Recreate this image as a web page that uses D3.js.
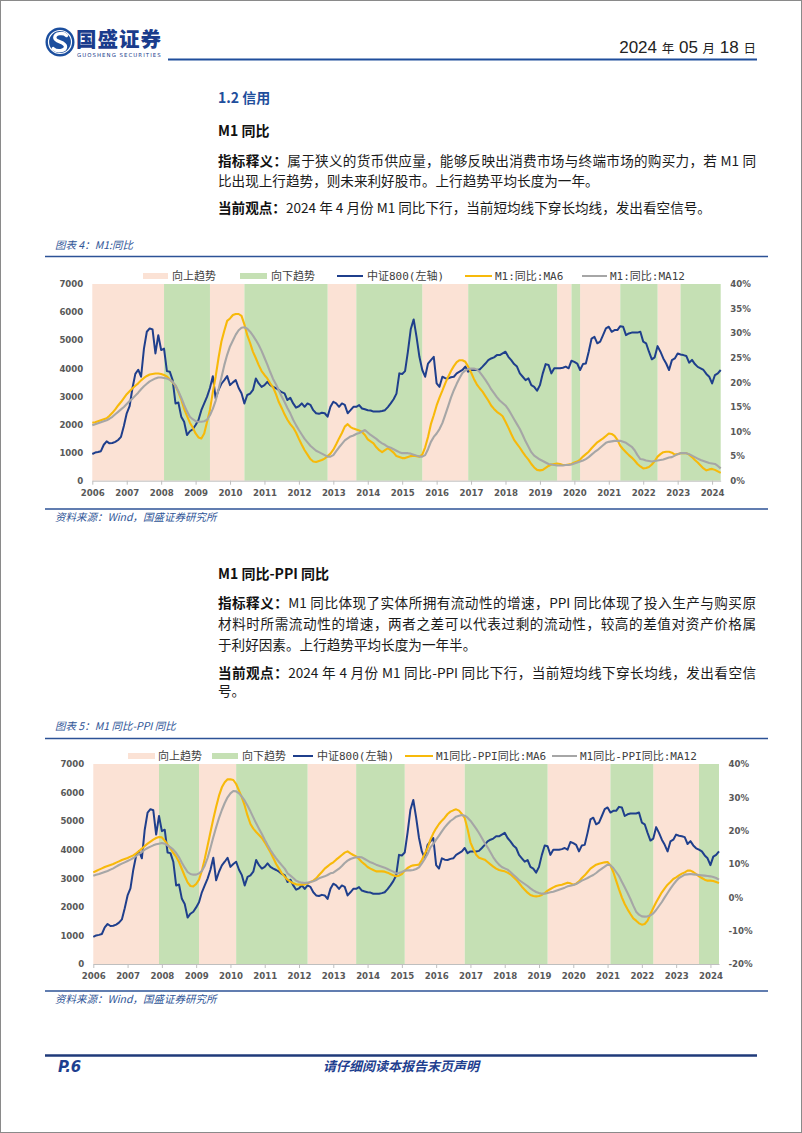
<!DOCTYPE html>
<html lang="zh-CN">
<head>
<meta charset="utf-8">
<title>M1 同比</title>
<script src="https://cdn.jsdelivr.net/npm/d3@7"></script>
<style>
html,body{margin:0;padding:0;background:#fff;}
body{width:802px;height:1133px;position:relative;overflow:hidden;font-family:"Noto Sans CJK SC","Noto Sans",sans-serif;}
#page{position:absolute;left:0;top:0;width:800px;height:1131px;border:1px solid #8a8a8a;}
svg#canvas{position:absolute;left:0;top:0;}
.tx{position:absolute;left:218px;width:538px;font-size:13.6px;line-height:20px;color:#1a1a1a;white-space:normal;}
.jf{text-align:justify;text-align-last:justify;}
.tx b{font-weight:700;color:#111;}
.h1{color:#1f4e9c;font-weight:700;font-size:14px;}
.h2{font-weight:700;font-size:14px;color:#111;}
</style>
</head>
<body>
<div id="page"></div>
<svg id="canvas" width="802" height="1133"></svg>

<div class="tx h1" style="top:87px">1.2 信用</div>
<div class="tx h2" style="top:120px">M1 同比</div>
<div class="tx jf" style="top:150px"><b>指标释义：</b>属于狭义的货币供应量，能够反映出消费市场与终端市场的购买力，若 M1 同</div>
<div class="tx" style="top:170px">比出现上行趋势，则未来利好股市。上行趋势平均长度为一年。</div>
<div class="tx" style="top:197px"><b>当前观点：</b>2024 年 4 月份 M1 同比下行，当前短均线下穿长均线，发出看空信号。</div>

<div class="tx h2" style="top:563px">M1 同比-PPI 同比</div>
<div class="tx jf" style="top:592px"><b>指标释义：</b>M1 同比体现了实体所拥有流动性的增速，PPI 同比体现了投入生产与购买原</div>
<div class="tx jf" style="top:613px">材料时所需流动性的增速，两者之差可以代表过剩的流动性，较高的差值对资产价格属</div>
<div class="tx" style="top:634px">于利好因素。上行趋势平均长度为一年半。</div>
<div class="tx jf" style="top:662px"><b>当前观点：</b>2024 年 4 月份 M1 同比-PPI 同比下行，当前短均线下穿长均线，发出看空信</div>
<div class="tx" style="top:680px">号。</div>

<script>
// ---------------- DATA (monthly, Jan 2006 – Apr 2024) ----------------
const yearLabels = ["2006","2007","2008","2009","2010","2011","2012","2013","2014","2015","2016","2017","2018","2019","2020","2021","2022","2023","2024"];
const leftTicks = [0,1000,2000,3000,4000,5000,6000,7000];
const rightTicks1 = [0,5,10,15,20,25,30,35,40];
const rightTicks2 = [-20,-10,0,10,20,30,40];

const csi800 = [
 950,1000,1020,1050,1280,1400,1330,1340,1380,1450,1560,1950,
 2400,2650,3300,3800,3950,3700,4700,5300,5420,5380,4530,5180,
 4650,4700,3900,3880,3580,2750,2780,2280,2100,1625,1760,1830,
 1980,2160,2510,2750,2990,3300,3720,2930,3230,3450,3580,3720,
 3400,3500,3580,3300,3110,2750,3050,3100,3230,3640,3460,3340,
 3400,3520,3400,3340,3290,3230,3150,3110,2870,2950,2750,2600,
 2650,2750,2630,2750,2700,2510,2400,2380,2420,2400,2280,2630,
 2810,2750,2630,2750,2700,2400,2510,2630,2630,2690,2570,2540,
 2510,2500,2460,2460,2460,2480,2510,2620,2750,2900,3100,3820,
 3800,3900,4600,5400,5740,5120,4410,3940,3700,4170,4290,4410,
 3460,3340,3700,3650,3640,3680,3700,3820,3880,3940,4060,3880,
 3940,3940,3940,3960,4060,4170,4290,4350,4390,4470,4470,4530,
 4590,4410,4290,4150,4060,3820,3700,3580,3640,3400,3340,3200,
 3400,3820,4150,4120,3820,4000,4000,4000,4020,4060,4000,4270,
 4230,4170,3940,4150,4170,4590,5060,5120,4890,4950,5180,5420,
 5480,5300,5360,5360,5500,5480,5180,5240,5270,5270,5270,5300,
 4950,4890,4590,4320,4390,4790,4590,4350,4170,3940,4290,4350,
 4530,4490,4470,4440,4200,4300,4150,4050,4000,3940,3800,3700,
 3460,3760,3820,3940
];

const m1MA6 = [
 11.8,11.9,12.1,12.3,12.5,12.7,13.2,13.8,14.5,15.3,16.0,16.8,
 17.6,18.2,18.8,19.3,19.8,20.4,20.9,21.3,21.6,21.7,21.8,21.8,
 21.7,21.5,21.2,20.6,20.0,19.3,18.0,16.5,14.6,13.2,11.8,10.8,
 9.6,8.8,8.6,9.6,12.0,14.4,18.0,21.2,25.0,28.3,30.5,32.5,
 33.0,33.7,33.9,33.9,33.5,31.8,29.6,28.0,26.2,24.9,23.5,22.3,
 21.5,20.8,19.8,19.0,17.6,16.0,14.8,13.5,12.4,11.5,10.8,9.8,
 8.5,7.3,6.2,5.3,4.4,3.9,3.8,4.0,4.2,4.5,5.0,5.5,
 6.3,7.4,8.6,9.7,11.0,11.5,10.9,10.6,10.4,10.2,9.9,9.3,
 8.4,8.0,7.6,6.8,6.2,5.8,6.2,6.6,6.2,5.7,5.0,4.8,
 4.6,4.6,4.8,5.0,5.1,5.0,4.9,5.3,6.8,8.9,11.5,13.3,
 15.3,16.9,18.3,19.8,21.1,22.3,23.3,24.1,24.5,24.5,24.2,23.2,
 22.0,20.7,19.6,18.8,18.1,17.2,16.3,15.3,14.6,14.0,13.6,13.1,
 12.0,10.8,9.5,8.3,7.5,6.7,5.8,5.0,4.3,3.4,2.7,2.2,
 2.1,2.2,2.6,3.0,3.3,3.4,3.5,3.4,3.2,3.2,3.3,3.4,
 3.7,3.9,4.3,4.9,5.4,5.9,6.6,7.2,7.8,8.2,8.6,9.1,
 9.6,9.5,9.1,8.3,7.1,6.4,5.8,5.2,4.7,4.1,3.4,2.9,
 2.5,2.6,2.8,3.3,4.0,4.9,5.4,5.8,5.9,5.9,5.7,5.3,
 5.4,5.6,5.6,5.6,5.3,4.8,4.2,3.7,3.1,2.5,2.1,2.3,
 2.4,2.2,1.9,1.6
];

const m1MA12 = [
 11.3,11.5,11.7,11.9,12.1,12.3,12.6,13.0,13.5,14.0,14.5,15.0,
 15.6,16.2,16.7,17.3,17.9,18.6,19.2,19.7,20.2,20.5,20.8,21.0,
 21.0,20.9,20.8,20.5,20.1,19.4,18.2,16.9,15.4,14.1,13.0,12.5,
 12.1,12.0,12.0,12.1,12.4,13.3,14.6,16.3,18.6,21.0,23.5,25.6,
 27.3,28.5,29.7,30.6,31.1,31.2,30.9,30.3,29.5,28.6,27.6,26.4,
 25.0,23.6,22.1,20.7,19.6,18.4,17.1,16.0,14.8,13.7,12.4,11.3,
 10.3,9.4,8.5,7.8,7.1,6.6,6.1,5.8,5.5,5.2,4.9,4.9,
 5.2,6.0,6.8,7.5,8.2,8.6,9.0,9.2,9.5,9.7,10.0,10.3,
 9.8,9.3,8.9,8.5,8.0,7.6,7.3,6.9,6.7,6.4,6.1,5.8,
 5.6,5.6,5.6,5.5,5.3,5.1,4.9,4.9,5.2,6.4,7.9,8.9,
 9.6,10.5,11.7,13.4,15.1,16.9,18.4,19.7,20.9,21.9,22.4,22.7,
 22.8,22.8,22.6,22.1,21.3,20.5,19.6,18.6,17.8,17.0,16.3,15.8,
 15.3,14.5,13.5,12.5,11.5,10.5,9.3,8.0,6.9,5.8,5.1,4.7,
 4.3,4.0,3.7,3.4,3.3,3.2,3.1,3.1,3.1,3.2,3.2,3.3,
 3.5,3.7,3.9,4.1,4.4,4.8,5.3,5.8,6.2,6.7,7.2,7.7,
 7.9,8.0,8.1,8.1,8.1,7.9,7.7,7.3,6.9,6.2,5.2,4.4,
 4.3,4.1,4.0,3.9,4.0,4.1,4.2,4.3,4.5,4.7,4.8,5.1,
 5.4,5.6,5.6,5.6,5.4,5.1,4.8,4.5,4.2,4.0,3.8,3.6,
 3.5,3.4,3.0,2.5
];

const diffMA6 = [
 7.5,7.9,8.3,8.7,9.1,9.4,9.7,10.0,10.4,10.8,11.2,11.5,
 11.8,12.2,12.6,13.2,13.9,14.6,15.4,16.1,16.7,17.3,17.8,18.1,
 18.0,17.0,15.8,14.7,13.3,12.2,10.6,8.5,6.4,4.5,3.4,3.3,
 4.0,5.3,8.0,11.5,15.5,19.5,23.5,27.2,30.5,33.0,34.5,35.4,
 35.4,35.2,34.0,32.0,30.0,27.5,24.5,22.0,20.6,19.6,18.7,17.8,
 16.5,15.0,13.5,11.8,10.0,8.6,7.2,6.2,5.3,4.7,4.2,3.9,
 3.8,3.8,3.9,4.2,4.6,5.0,5.7,6.7,7.6,8.6,9.3,10.0,
 10.5,11.3,12.0,12.7,13.4,13.8,13.2,12.7,12.3,11.5,10.6,9.9,
 9.1,8.6,8.2,7.8,7.8,7.8,7.7,7.4,7.0,6.6,6.3,6.5,
 7.0,8.0,8.8,9.3,9.6,9.7,9.8,11.2,13.0,14.8,17.3,19.2,
 20.7,22.0,23.0,23.9,25.0,25.7,26.1,26.4,26.0,25.0,23.8,20.5,
 16.5,14.5,12.8,11.9,11.6,11.3,10.6,9.9,9.2,8.6,8.2,8.0,
 7.8,7.4,6.9,6.1,5.3,4.3,3.2,2.3,1.4,0.7,0.4,0.3,
 0.4,0.7,1.3,2.0,2.5,3.0,3.4,3.6,3.8,4.1,4.4,4.2,
 3.8,4.1,4.8,5.8,6.6,7.6,8.6,9.2,9.8,10.1,10.3,10.5,
 10.6,9.6,7.6,5.0,2.4,0.0,-2.0,-3.6,-5.0,-6.3,-7.0,-7.8,
 -8.2,-8.0,-7.0,-5.0,-3.2,-1.5,0.0,1.5,2.7,3.8,4.6,5.5,
 6.0,6.6,7.1,7.5,8.0,8.0,7.6,7.0,6.3,5.8,5.3,5.0,
 5.0,4.9,4.6,4.3
];

const diffMA12 = [
 6.5,6.8,7.0,7.3,7.6,7.9,8.3,8.7,9.2,9.7,10.1,10.5,
 10.9,11.3,11.8,12.4,13.0,13.6,14.3,14.8,15.2,15.6,15.9,16.1,
 16.3,16.1,15.6,15.0,14.3,13.3,12.0,10.4,8.9,7.6,7.0,6.8,
 6.8,7.2,7.9,9.5,11.8,14.8,18.0,21.0,23.8,26.2,28.3,30.0,
 31.2,31.9,31.8,31.2,30.2,29.0,27.5,25.8,24.0,22.2,20.6,19.0,
 17.3,15.7,14.2,12.9,11.7,10.6,9.6,8.6,7.2,6.5,5.8,5.0,
 4.6,4.4,4.3,4.4,4.6,4.8,5.2,5.7,6.0,6.3,6.7,7.2,
 7.4,8.0,8.6,9.4,10.3,11.0,11.5,11.8,12.0,12.1,12.0,11.5,
 11.0,10.5,10.2,9.8,9.5,9.2,8.9,8.5,8.1,7.7,7.2,7.3,
 7.6,8.0,8.1,8.1,8.2,8.5,9.0,10.2,11.5,13.0,15.0,16.0,
 17.3,18.5,19.8,21.0,22.0,22.9,23.5,24.2,24.5,24.7,24.5,23.9,
 23.0,21.8,20.6,19.3,17.8,16.3,15.0,13.5,12.0,10.8,9.8,9.1,
 8.7,8.3,7.6,6.8,6.0,5.2,4.6,4.0,3.4,2.7,2.1,1.6,
 1.3,1.1,1.1,1.3,1.5,1.7,2.0,2.3,2.6,2.9,3.3,3.5,
 3.7,4.0,4.5,5.0,5.4,5.8,6.3,6.7,7.3,8.0,8.6,9.2,
 9.8,9.6,8.8,7.6,6.4,4.7,3.0,1.3,-0.5,-2.5,-4.3,-5.2,
 -5.7,-5.8,-5.7,-5.4,-4.8,-3.8,-2.6,-1.4,0.0,1.3,2.6,3.8,
 4.9,5.8,6.3,6.8,6.9,7.0,6.9,6.8,6.7,6.6,6.5,6.4,
 6.3,6.1,5.8,5.3
];

// trend periods (month index from Jan 2006)
const upBands1   = [[0,25],[41,53],[82,92],[115,131],[162,167],[170,184],[197,205]];
const downBands1 = [[25,41],[53,82],[92,115],[131,162],[167,170],[184,197],[205,219]];
const upBands2   = [[0,23],[37,50],[75,92],[109,130],[159,181],[196,212]];
const downBands2 = [[23,37],[50,75],[92,109],[130,159],[181,196],[212,219]];

const legendLabels1 = ["向上趋势","向下趋势","中证800(左轴)","M1:同比:MA6","M1:同比:MA12"];
const legendLabels2 = ["向上趋势","向下趋势","中证800(左轴)","M1同比-PPI同比:MA6","M1同比-PPI同比:MA12"];

// ---------------- STYLE ----------------
const UP = "#fbe2d5", DOWN = "#c5e0b4", BLUE = "#1f3f8c", ORANGE = "#f7b90a", GRAY = "#a6a6a6";
const NAVY = "#1f4e9c", CAPTION = "#2f5597";

const svg = d3.select("#canvas");

// ---------------- HEADER ----------------
const hdr = svg.append("g");
hdr.append("circle").attr("cx", 60).attr("cy", 42).attr("r", 14.5).attr("fill", "#1b4e9e");
hdr.append("circle").attr("cx", 60).attr("cy", 42).attr("r", 11.5).attr("fill", "none").attr("stroke", "#fff").attr("stroke-width", 1.2);
hdr.append("path").attr("d", "M66.5,35.5 C63.5,32.5 55,32.8 54.8,37.6 C54.6,42.2 65.6,41.6 65.5,46.6 C65.4,51.4 56.5,51.8 53.2,48.6")
  .attr("fill", "none").attr("stroke", "#fff").attr("stroke-width", 3.4).attr("stroke-linecap", "round");
hdr.append("text").attr("x", 76).attr("y", 47).attr("font-size", 20.5).attr("font-weight", 900)
  .attr("letter-spacing", 1).attr("fill", "#1a3c8c").text("国盛证券");
hdr.append("text").attr("x", 77).attr("y", 56.5).attr("font-size", 5.4).attr("letter-spacing", 1.05)
  .attr("font-family", "DejaVu Sans, sans-serif").attr("fill", "#1a3c8c").text("GUOSHENG SECURITIES");
const dt = hdr.append("text").attr("x", 756).attr("y", 53).attr("text-anchor", "end").attr("fill", "#222");
const narrow = "'Liberation Sans Narrow','Liberation Sans',sans-serif";
[["2024 ", 1], ["年", 0], [" 05 ", 1], ["月", 0], [" 18 ", 1], ["日", 0]].forEach(([t, n]) => {
  const s = dt.append("tspan").text(t).attr("xml:space", "preserve");
  if (n) s.attr("font-family", narrow).attr("font-size", 17);
  else s.attr("font-size", 12.5);
});
hdr.append("line").attr("x1", 168).attr("x2", 757).attr("y1", 59.5).attr("y2", 59.5).attr("stroke", NAVY).attr("stroke-width", 2);

// ---------------- FOOTER ----------------
svg.append("line").attr("x1", 45).attr("x2", 757).attr("y1", 1055.5).attr("y2", 1055.5).attr("stroke", "#1f3a7a").attr("stroke-width", 2.5);
svg.append("text").attr("x", 58).attr("y", 1072).attr("font-size", 15).attr("font-weight", 700).attr("font-style", "italic")
  .attr("font-family", "DejaVu Sans, sans-serif").attr("fill", "#1f3f8f").text("P.6");
svg.append("text").attr("x", 401).attr("y", 1071).attr("text-anchor", "middle").attr("font-size", 13).attr("font-weight", 700)
  .attr("font-style", "italic").attr("fill", "#1f3f8f").text("请仔细阅读本报告末页声明");

// ---------------- CHART ----------------
function drawChart(o) {
  const g = svg.append("g");
  g.append("text").attr("x", 55).attr("y", o.capY).attr("dy", "0.35em").attr("font-size", 10.5).attr("font-style", "italic")
    .attr("fill", CAPTION).text(o.caption);
  g.append("line").attr("x1", 45).attr("x2", 768).attr("y1", o.ruleTop).attr("y2", o.ruleTop).attr("stroke", "#2c5296").attr("stroke-width", 1.6);
  g.append("line").attr("x1", 45).attr("x2", 768).attr("y1", o.ruleBot).attr("y2", o.ruleBot).attr("stroke", "#2c5296").attr("stroke-width", 1.6);
  g.append("text").attr("x", 55).attr("y", o.ruleBot + 8).attr("dy", "0.35em").attr("font-size", 10.5).attr("font-style", "italic")
    .attr("fill", CAPTION).text("资料来源：Wind，国盛证券研究所");

  const n = csi800.length;
  const x = d3.scaleLinear().domain([0, n - 1]).range([o.left, o.right]);
  const yL = d3.scaleLinear().domain([0, 7000]).range([o.bottom, o.top]);
  const yR = d3.scaleLinear().domain(o.rDomain).range([o.bottom, o.top]);

  const bands = o.up.map(d => ({ s: d[0], e: d[1], c: UP })).concat(o.down.map(d => ({ s: d[0], e: d[1], c: DOWN })));
  g.append("g").selectAll("rect").data(bands).join("rect")
    .attr("x", d => x(d.s)).attr("y", o.top)
    .attr("width", d => x(d.e) - x(d.s)).attr("height", o.bottom - o.top)
    .attr("fill", d => d.c);

  const styleAxis = a => {
    a.selectAll("text").attr("font-family", "DejaVu Sans, sans-serif").attr("font-weight", 700)
      .attr("font-size", 8.6).attr("fill", "#595959");
  };
  const xa = g.append("g").attr("transform", `translate(0,${o.bottom})`)
    .call(d3.axisBottom(x).tickValues(yearLabels.map((_, i) => i * 12)).tickFormat((d, i) => yearLabels[i])
      .tickSize(4).tickSizeOuter(0).tickPadding(5));
  xa.select(".domain").attr("stroke", "#bfbfbf");
  xa.selectAll(".tick line").attr("stroke", "#bfbfbf");
  styleAxis(xa);

  const la = g.append("g").attr("transform", `translate(${o.left},0)`)
    .call(d3.axisLeft(yL).tickValues(leftTicks).tickFormat(d3.format("d")).tickSize(0).tickPadding(9));
  la.select(".domain").remove();
  styleAxis(la);

  const ra = g.append("g").attr("transform", `translate(${o.right},0)`)
    .call(d3.axisRight(yR).tickValues(o.rTicks).tickFormat(d => d + "%").tickSize(0).tickPadding(9.5));
  ra.select(".domain").remove();
  styleAxis(ra);

  const lineL = d3.line().x((d, i) => x(i)).y(d => yL(d));
  const lineR = d3.line().x((d, i) => x(i)).y(d => yR(d));
  g.append("path").datum(csi800).attr("d", lineL).attr("fill", "none").attr("stroke", BLUE).attr("stroke-width", 2).attr("stroke-linejoin", "round");
  g.append("path").datum(o.ma6).attr("d", lineR).attr("fill", "none").attr("stroke", ORANGE).attr("stroke-width", 2.1).attr("stroke-linejoin", "round");
  g.append("path").datum(o.ma12).attr("d", lineR).attr("fill", "none").attr("stroke", GRAY).attr("stroke-width", 2.1).attr("stroke-linejoin", "round");

  const lg = g.append("g");
  const kinds = ["rect", "rect", "line", "line", "line"];
  const colors = [UP, DOWN, BLUE, ORANGE, GRAY];
  o.legendLabels.forEach((lab, i) => {
    const p = o.legendPos[i];
    if (kinds[i] === "rect") {
      lg.append("rect").attr("x", p[0]).attr("y", o.legY - 3).attr("width", p[1] - p[0]).attr("height", 6).attr("fill", colors[i]);
    } else {
      lg.append("line").attr("x1", p[0]).attr("x2", p[1]).attr("y1", o.legY).attr("y2", o.legY)
        .attr("stroke", colors[i]).attr("stroke-width", 2);
    }
    lg.append("text").attr("x", p[2]).attr("y", o.legY).attr("dy", "0.36em")
      .attr("font-family", "'DejaVu Sans Mono','Noto Sans CJK SC',monospace").attr("font-size", 11)
      .attr("fill", "#404040").text(lab);
  });
}

drawChart({
  caption: "图表 4：M1:同比", capY: 245, ruleTop: 256.5, ruleBot: 509,
  left: 92.3, right: 720.7, top: 284, bottom: 480.7,
  rDomain: [0, 40], rTicks: rightTicks1,
  up: upBands1, down: downBands1, ma6: m1MA6, ma12: m1MA12,
  legY: 276, legendLabels: legendLabels1,
  legendPos: [[143, 168, 172], [240, 267, 271], [337, 363, 367], [465, 492, 495], [582, 607, 610]]
});

drawChart({
  caption: "图表 5：M1 同比-PPI 同比", capY: 726, ruleTop: 738.5, ruleBot: 991,
  left: 93.3, right: 719, top: 764, bottom: 964,
  rDomain: [-20, 40], rTicks: rightTicks2,
  up: upBands2, down: downBands2, ma6: diffMA6, ma12: diffMA12,
  legY: 756, legendLabels: legendLabels2,
  legendPos: [[128, 155, 158], [212, 238, 242], [293, 313, 317], [405, 433, 436], [552, 577, 580]]
});
</script>
</body>
</html>
